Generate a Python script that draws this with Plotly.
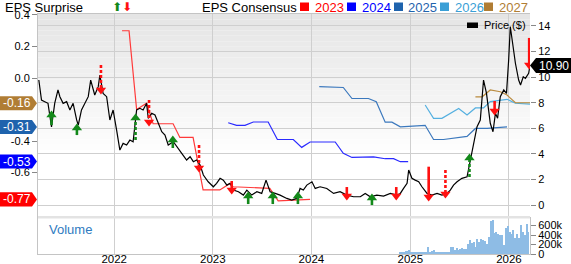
import plotly.graph_objects as go
import pandas as pd

# ---------------- data ----------------
price_dates = ["2021-03-28","2021-04-07","2021-04-19","2021-05-01","2021-05-14","2021-05-26","2021-06-07","2021-06-14",
               "2021-06-26","2021-07-09","2021-07-21","2021-08-02","2021-08-15","2021-08-21","2021-09-02","2021-09-14",
               "2021-09-27","2021-10-06","2021-10-21","2021-11-03","2021-11-09","2021-11-21","2021-12-04","2021-12-16",
               "2021-12-28","2022-01-10","2022-01-22","2022-02-03","2022-02-16","2022-02-28","2022-03-12","2022-03-25",
               "2022-04-06","2022-04-18","2022-05-01","2022-05-07","2022-05-20","2022-06-01","2022-06-13","2022-06-26",
               "2022-07-08","2022-07-20","2022-08-08","2022-08-20","2022-09-08","2022-09-26","2022-10-09","2022-10-21",
               "2022-11-02","2022-11-15","2022-11-27","2022-12-15","2023-01-03","2023-01-15","2023-01-28","2023-02-09",
               "2023-02-22","2023-03-06","2023-03-18","2023-04-06","2023-04-24","2023-05-07","2023-05-25","2023-06-13",
               "2023-07-01","2023-07-17","2023-08-01","2023-08-20","2023-09-07","2023-10-02","2023-10-20","2023-11-08",
               "2023-11-20","2023-12-02","2023-12-15","2024-01-03","2024-01-15","2024-02-02","2024-02-27","2024-03-23",
               "2024-04-16","2024-05-11","2024-06-05","2024-06-30","2024-07-18","2024-08-06","2024-08-30","2024-09-24",
               "2024-10-19","2024-11-13","2024-11-25","2024-12-07","2024-12-20","2024-12-26","2025-01-07","2025-01-19",
               "2025-02-01","2025-02-13","2025-03-04","2025-03-22","2025-04-10","2025-04-28","2025-05-17","2025-05-29",
               "2025-06-10","2025-06-23","2025-07-11","2025-07-30","2025-08-11","2025-08-23","2025-09-05","2025-09-17",
               "2025-09-29","2025-10-10","2025-10-18","2025-10-24","2025-11-03","2025-11-12","2025-11-20","2025-11-30",
               "2025-12-13","2025-12-23","2025-12-31","2026-01-06","2026-01-13","2026-01-25","2026-02-06","2026-02-13",
               "2026-02-23","2026-03-03","2026-03-15","2026-03-20"]
price_vals = [9.77,8.2,8.08,7.95,6.1,7.97,9.0,8.47,
              7.95,8.08,7.43,7.95,6.65,6.25,7.43,7.95,
              8.47,9.77,8.6,9.25,10.16,8.73,8.47,6.65,
              7.43,5.86,4.3,4.82,4.69,5.08,4.95,7.43,
              7.56,7.43,7.95,6.78,7.17,7.04,6.39,5.73,
              5.47,4.69,4.95,4.56,4.04,3.52,3.78,3.39,
              3.52,3.13,2.35,1.82,1.43,1.70,2.09,1.95,
              1.56,1.70,1.17,1.04,0.78,1.17,0.78,1.04,
              0.91,1.95,1.04,0.91,0.78,0.52,0.39,0.52,
              1.30,1.17,1.56,1.82,1.30,1.43,1.30,0.91,
              1.04,0.78,0.65,0.65,0.91,0.65,0.78,0.70,
              0.91,0.78,0.91,1.30,1.70,2.74,2.09,1.95,
              1.82,1.43,0.91,0.78,0.91,0.78,0.91,1.17,
              1.56,1.82,2.09,2.21,3.52,4.69,6.12,6.65,
              9.77,8.73,7.17,6.39,5.73,7.17,6.78,8.47,
              9.0,8.73,11.34,13.94,12.9,11.08,9.77,9.38,
              10.03,9.9,10.3,10.90]

c2023_dates = ["2022-01-30","2022-02-25","2022-03-25","2022-05-01","2022-05-25","2022-08-07","2022-09-01","2022-10-20",
               "2022-11-26","2023-01-27","2023-03-05","2023-03-17","2023-07-31","2023-08-31","2023-12-27"]
c2023_vals = [0.30,0.30,-0.20,-0.16,-0.29,-0.29,-0.377,-0.377,-0.71,-0.71,-0.67,-0.69,-0.70,-0.78,-0.77]

c2024_dates = ["2023-02-27","2023-03-30","2023-04-30","2023-05-31","2023-07-25","2023-08-28","2023-10-26","2023-11-26",
               "2023-12-27","2024-03-29","2024-04-28","2024-05-30","2024-08-18","2024-09-30","2024-10-31","2024-11-25",
               "2024-12-24"]
c2024_vals = [-0.284,-0.30,-0.30,-0.279,-0.279,-0.39,-0.39,-0.44,-0.406,-0.406,-0.478,-0.504,-0.50,-0.512,-0.512,-0.531,-0.531]

c2025_dates = ["2024-01-30","2024-04-28","2024-05-30","2024-07-30","2024-08-28","2024-09-30","2024-10-25","2024-11-25",
               "2025-02-25","2025-03-28","2025-05-04","2025-06-10","2025-07-17","2025-07-30","2025-08-30","2025-10-12",
               "2025-12-25"]
c2025_vals = [-0.055,-0.06,-0.13,-0.13,-0.15,-0.28,-0.28,-0.31,-0.30,-0.39,-0.39,-0.38,-0.37,-0.37,-0.32,-0.32,-0.31]

c2026_dates = ["2025-02-25","2025-03-28","2025-04-28","2025-06-29","2025-07-30","2025-08-30","2025-09-29","2025-10-24",
               "2025-12-25","2026-01-25","2026-03-20"]
c2026_vals = [-0.171,-0.256,-0.256,-0.193,-0.235,-0.19,-0.19,-0.15,-0.135,-0.16,-0.165]

c2027_dates = ["2025-08-30","2025-09-24","2025-10-24","2025-11-30","2025-12-25","2026-01-25","2026-03-20"]
c2027_vals = [-0.119,-0.119,-0.076,-0.087,-0.108,-0.157,-0.157]

# EPS surprise arrows (drawn on the price scale)
arrow_dates = ["2021-05-14","2021-08-16","2021-11-13","2022-03-21","2022-05-10","2022-08-06","2022-11-11","2023-03-12",
               "2023-05-12","2023-08-11","2023-11-12","2024-05-11","2024-08-12","2024-11-10","2025-03-10","2025-05-11",
               "2025-08-08","2025-11-09","2026-03-17"]
arrow_from = [6.25,5.47,10.95,5.08,8.21,4.46,4.69,1.88,0.08,0.08,0.08,1.41,0.0,1.41,3.0,2.74,2.19,8.13,13.06]
arrow_to   = [7.04,6.02,8.99,6.80,6.49,5.08,2.89,1.17,0.70,0.70,0.70,0.70,0.55,0.70,0.63,0.86,3.67,7.35,10.95]
arrow_beat = [True,True,False,True,False,True,False,False,True,True,True,False,True,False,False,False,True,False,False]
arrow_dash = [False,False,True,True,True,False,True,False,False,False,False,False,False,False,False,True,True,False,False]

vol_start = "2024-11-24"
vol_vals_k = [20,20,25,45,55,65,40,20,15,15,15,15,15,15,15,140,20,45,65,40,
              20,20,20,20,20,40,40,135,135,65,120,80,100,110,92,106,205,290,220,240,
              135,305,250,312,290,262,205,350,690,700,440,460,420,400,400,170,545,575,455,420,
              505,333,405,333,595,455,400,620,460]

eps_badges = [-0.16, -0.31, -0.53, -0.77]
eps_badge_colors = ["#b07d34", "#1f63ad", "#0000ff", "#ff0000"]
last_price = 10.90

year_ticks = ["2022-01-01","2023-01-01","2024-01-01","2025-01-01","2026-01-01"]
year_labels = ["2022","2023","2024","2025","2026"]
left_ticks = [0.4, 0.2, 0.0, -0.4, -0.6]
right_ticks = [0, 2, 4, 6, 8, 10, 12, 14]
vol_ticks = [0, 200000, 400000, 600000]
vol_labels = ["0", "200k", "400k", "600k"]

legend_years = ["2023", "2024", "2025", "2026", "2027"]
legend_colors = ["#ff0000", "#0000ff", "#1f63ad", "#3a9fd6", "#b07d34"]
line_colors = ["#ff3a3a", "#2a2aff", "#3b78bd", "#55b0e0", "#b98a3e"]

# ---------------- figure ----------------
W, H = 571, 264
ML, MR, MT, MB = 38, 41, 14, 10
PW = W - ML - MR
PH = H - MT - MB
FONT = "Liberation Sans, Arial, sans-serif"

def px_x(px):
    return (px - ML) / PW

def px_y(py):
    return 1 - (py - MT) / PH

fig = go.Figure()

vol_dates = pd.date_range(vol_start, periods=len(vol_vals_k), freq="7D")
fig.add_trace(go.Bar(x=vol_dates, y=[v * 1000 for v in vol_vals_k], xaxis="x2", yaxis="y3",
                     marker=dict(color="#8ebce5", line=dict(width=0)), width=5 * 86400000,
                     showlegend=False, hoverinfo="skip"))

for d, v, c in [(c2023_dates, c2023_vals, line_colors[0]), (c2024_dates, c2024_vals, line_colors[1]),
                (c2025_dates, c2025_vals, line_colors[2]), (c2026_dates, c2026_vals, line_colors[3]),
                (c2027_dates, c2027_vals, line_colors[4])]:
    fig.add_trace(go.Scatter(x=d, y=v, mode="lines", line=dict(color=c, width=1.2),
                             xaxis="x", yaxis="y", showlegend=False, hoverinfo="skip"))

fig.add_trace(go.Scatter(x=price_dates, y=price_vals, mode="lines", line=dict(color="black", width=1.2),
                         xaxis="x", yaxis="y2", showlegend=False, hoverinfo="skip"))

# arrows
for beat in (True, False):
    for dash in (False, True):
        xs, ys = [], []
        for d, a, b, bt, ds in zip(arrow_dates, arrow_from, arrow_to, arrow_beat, arrow_dash):
            if bt == beat and ds == dash:
                xs += [d, d, None]
                ys += [a, b, None]
        if not xs:
            continue
        col = "#13891a" if beat else "#ff1010"
        fig.add_trace(go.Scatter(x=xs, y=ys, mode="lines",
                                 line=dict(color=col, width=2.6, dash="3px,2px" if dash else "solid"),
                                 xaxis="x", yaxis="y2", showlegend=False, hoverinfo="skip"))
    hx = [d for d, bt in zip(arrow_dates, arrow_beat) if bt == beat]
    hy = [b for b, bt in zip(arrow_to, arrow_beat) if bt == beat]
    fig.add_trace(go.Scatter(x=hx, y=hy, mode="markers",
                             marker=dict(symbol="triangle-up" if beat else "triangle-down", size=9,
                                         color="#13891a" if beat else "#ff1010", line=dict(width=0)),
                             xaxis="x", yaxis="y2", showlegend=False, hoverinfo="skip"))

shapes = []
# background gradient of the main panel
main_bottom = 0.158
n = 26
top = 1.0
span = (1 - main_bottom) * 0.7
for i in range(n):
    y1 = top - i * span / n
    y0 = y1 - span / n
    g = int(229 + (255 - 229) * i / (n - 1))
    shapes.append(dict(type="rect", xref="paper", yref="paper", x0=0, x1=1, y0=y0, y1=y1,
                       fillcolor=f"rgb({g},{g},{g})", line=dict(width=0), layer="below"))
# separator strip
shapes.append(dict(type="rect", xref="paper", yref="paper", x0=0, x1=1, y0=0.148, y1=main_bottom,
                   fillcolor="#e3e3e3", line=dict(width=0), layer="above"))

# left badges
bx0, bx1, bx2 = px_x(0), px_x(32), px_x(37)
h = 7 / 157.5
annotations = []
for v, c in zip(eps_badges, eps_badge_colors):
    shapes.append(dict(type="path", xref="paper", yref="y",
                       path=f"M {bx0},{v+h} L {bx1},{v+h} L {bx2},{v} L {bx1},{v-h} L {bx0},{v-h} Z",
                       fillcolor=c, line=dict(width=0), layer="above"))
    annotations.append(dict(xref="paper", yref="y", x=px_x(17), y=v, text=f"{v:.2f}", showarrow=False,
                            font=dict(color="white", size=12, family=FONT), xanchor="center", yanchor="middle"))

# right price badge
rh = 7.5 / 12.79
rx0, rx1, rx2 = px_x(530), px_x(536), px_x(571)
shapes.append(dict(type="path", xref="paper", yref="y2",
                   path=f"M {rx0},{last_price} L {rx1},{last_price+rh} L {rx2},{last_price+rh} L {rx2},{last_price-rh} L {rx1},{last_price-rh} Z",
                   fillcolor="black", line=dict(width=0), layer="above"))
annotations.append(dict(xref="paper", yref="y2", x=px_x(554), y=last_price, text=f"{last_price:.2f}",
                        showarrow=False, font=dict(color="white", size=12, family=FONT),
                        xanchor="center", yanchor="middle"))

# titles
annotations.append(dict(xref="paper", yref="paper", x=px_x(3), y=px_y(7), xanchor="left", yanchor="middle",
                        text="EPS Surprise", showarrow=False, font=dict(size=13, color="black", family=FONT)))
annotations.append(dict(xref="paper", yref="paper", x=px_x(110), y=px_y(7.5), xanchor="left", yanchor="middle",
                        text="<span style='color:#13891a'>⬆</span><span style='color:#ff1010'>⬇</span>",
                        showarrow=False, font=dict(size=12, color="black", family="DejaVu Sans")))
annotations.append(dict(xref="paper", yref="paper", x=px_x(200), y=px_y(7), xanchor="left", yanchor="middle",
                        text="EPS Consensus", showarrow=False, font=dict(size=13, color="black", family=FONT)))
sq_left = [300, 347, 394, 440, 484]
tx_left = [313, 360, 406, 453, 497]
for yr, col, sx, tx in zip(legend_years, legend_colors, sq_left, tx_left):
    shapes.append(dict(type="rect", xref="paper", yref="paper", x0=px_x(sx), x1=px_x(sx + 9),
                       y0=px_y(11), y1=px_y(2.5), fillcolor=col, line=dict(width=0)))
    annotations.append(dict(xref="paper", yref="paper", x=px_x(tx), y=px_y(7), xanchor="left", yanchor="middle",
                            text=yr, showarrow=False, font=dict(size=13, color=col, family=FONT)))

# price legend
shapes.append(dict(type="rect", xref="paper", yref="paper", x0=px_x(467), x1=px_x(478),
                   y0=px_y(28), y1=px_y(22.5), fillcolor="black", line=dict(width=0)))
annotations.append(dict(xref="paper", yref="paper", x=px_x(482), y=px_y(25), xanchor="left", yanchor="middle",
                        text="Price ($)", showarrow=False, font=dict(size=11, color="black", family=FONT)))
annotations.append(dict(xref="paper", yref="paper", x=px_x(47), y=px_y(229), xanchor="left", yanchor="middle",
                        text="Volume", showarrow=False, font=dict(size=13, color="#2f7bbf", family=FONT)))

grid = "#cfcfcf"
frame = "#c4c4c4"
fig.update_layout(
    width=W, height=H, margin=dict(l=ML, r=MR, t=MT, b=MB, pad=0, autoexpand=False),
    paper_bgcolor="white", plot_bgcolor="rgba(0,0,0,0)",
    font=dict(family=FONT, size=11, color="black"),
    showlegend=False, bargap=0,
    xaxis=dict(domain=[0, 1], anchor="y", type="date", range=["2021-03-25", "2026-03-20"], automargin=False,
               tickvals=year_ticks, showticklabels=False, showgrid=True, gridcolor=grid, gridwidth=1.3,
               showline=True, mirror=True, linecolor=frame, linewidth=1, zeroline=False, ticks=""),
    yaxis=dict(domain=[main_bottom, 1], anchor="x", range=[-0.876, 0.4063], side="left", automargin=False,
               tickvals=left_ticks, ticktext=[f"{t:.1f}" for t in left_ticks], ticks="outside", ticklen=5,
               tickcolor="#888888", showgrid=False, zeroline=False, showline=True, mirror=False,
               linecolor=frame, tickfont=dict(size=11)),
    yaxis2=dict(overlaying="y", anchor="x", side="right", range=[-0.86, 14.93], tickvals=right_ticks,
                automargin=False,
                ticks="outside", ticklen=5, tickcolor="#888888", showgrid=True, gridcolor=grid, gridwidth=1.3,
                zeroline=False, showline=False, tickfont=dict(size=11)),
    xaxis2=dict(domain=[0, 1], anchor="y3", type="date", matches="x", tickvals=year_ticks, ticktext=year_labels,
                automargin=False, ticklabelstandoff=-6,
                showgrid=True, gridcolor=grid, gridwidth=1.3, showline=True, mirror=True, linecolor=frame,
                ticks="", zeroline=False, tickfont=dict(size=11.5)),
    yaxis3=dict(domain=[0, 0.148], anchor="x2", side="right", range=[0, 750000], tickvals=vol_ticks,
                automargin=False,
                ticktext=vol_labels, ticks="outside", ticklen=5, tickcolor="#888888", showgrid=False,
                zeroline=False, showline=True, mirror=True, linecolor=frame, tickfont=dict(size=11)),
    shapes=shapes, annotations=annotations,
)

fig.write_html("out.html")
